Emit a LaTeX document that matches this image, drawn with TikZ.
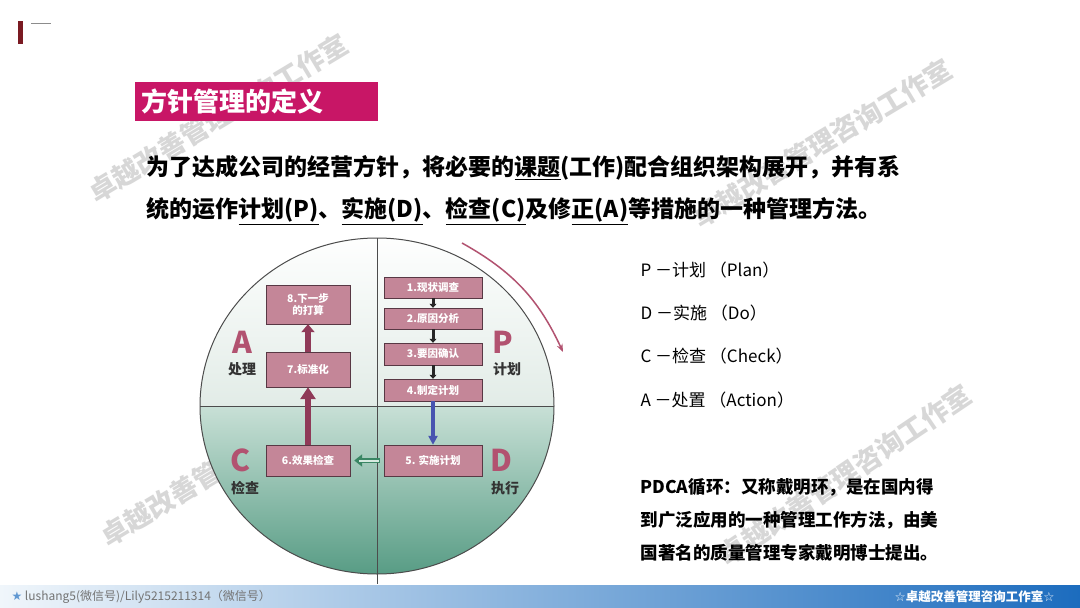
\documentclass[tikz,border=0pt]{standalone}
\usepackage{fontspec}
\setmainfont{Noto Sans CJK SC}
\newfontfamily\symfont{DejaVu Sans}
\usepackage{tikz}
\usetikzlibrary{positioning, arrows.meta}
\usepackage{xcolor}
\definecolor{titlered}{RGB}{200,22,102}
\definecolor{boxpink}{RGB}{196,134,152}
\definecolor{boxline}{RGB}{88,56,68}
\definecolor{letterpink}{RGB}{178,82,112}
\definecolor{maroon}{RGB}{143,58,88}
\definecolor{bluearr}{RGB}{72,84,176}
\definecolor{greenarr}{RGB}{58,134,100}
\definecolor{greenfill}{RGB}{214,234,224}
\definecolor{upmid}{RGB}{226,236,231}
\definecolor{lowtop}{RGB}{200,224,214}
\definecolor{lowbot}{RGB}{84,154,130}
\definecolor{barL}{RGB}{240,246,251}
\definecolor{barM}{RGB}{140,186,226}
\definecolor{barR}{RGB}{28,108,190}
\definecolor{darkred}{RGB}{122,26,34}

\begin{document}
\begin{tikzpicture}[x=1pt,y=-1pt,
    stepbox/.style={draw=boxline, fill=boxpink, text=white, font=\bfseries\fontsize{10.5}{12.5}\selectfont, inner sep=1pt, align=center},
    quad/.style={text=letterpink, font=\bfseries\fontsize{30}{30}\selectfont},
    quadname/.style={text=black!80, font=\bfseries\fontsize{14}{14}\selectfont},
    listline/.style={anchor=west, font=\fontsize{17}{17}\selectfont},
    watermark/.style={text=black!22, opacity=0.7, rotate=31, font=\bfseries\fontsize{27}{27}\selectfont}]
\useasboundingbox (0,0) rectangle (1080,608);
\fill[white] (0,0) rectangle (1080,608);

% watermarks
\node[watermark] (wm1) at (218,118) {卓越改善管理咨询工作室};
\node[watermark] (wm2) at (822,143) {卓越改善管理咨询工作室};
\node[watermark] (wm3) at (230,462) {卓越改善管理咨询工作室};
\node[watermark, rotate=3] (wm4) at (845,475) {卓越改善管理咨询工作室};

% top left mark
\fill[darkred] (18,21) rectangle (23,44);
\draw[black!45, line width=0.8pt] (31,23) -- (51,23);

% title
\node[fill=titlered, text=white, anchor=north west, minimum width=243pt, minimum height=39pt,
      text width=230pt, inner sep=6pt, font=\bfseries\fontsize{26}{26}\selectfont] (title) at (135,82) {方针管理的定义};

% text
\node[anchor=west, font=\bfseries\fontsize{23}{23}\selectfont] (line1) at (143,168)
  {为了达成公司的经营方针，将必要的\underline{课题}(工作)配合组织架构展开，并有系};
\node[anchor=west, font=\bfseries\fontsize{23}{23}\selectfont] (line2) at (143,211)
  {统的运作\underline{计划(P)}、\underline{实施(D)}、\underline{检查(C)}及修\underline{正(A)}等措施的一种管理方法。};

% circle
\begin{scope}
  \clip (377,406) ellipse (177 and 168);
  \shade[top color=white, bottom color=upmid] (190,230) rectangle (560,406);
  \shade[top color=lowtop, bottom color=lowbot] (190,406) rectangle (560,580);
\end{scope}
\draw[black!70, line width=1pt] (377,406) ellipse (177 and 168);
\draw[black!70, line width=0.8pt] (377,238) -- (377,584);
\draw[black!70, line width=0.8pt] (200,406) -- (554,406);

% steps
\node[stepbox, minimum width=98pt, minimum height=21pt] (s1) at (433,287.5) {1.现状调查};
\node[stepbox, minimum width=98pt, minimum height=21pt] (s2) at (433,318.5) {2.原因分析};
\node[stepbox, minimum width=98pt, minimum height=22pt] (s3) at (433,354) {3.要因确认};
\node[stepbox, minimum width=98pt, minimum height=22pt] (s4) at (433,390) {4.制定计划};
\node[stepbox, minimum width=98pt, minimum height=31pt] (s5) at (433,460.5) {5. 实施计划};
\node[stepbox, minimum width=84pt, minimum height=31pt] (s6) at (308,460.5) {6.效果检查};
\node[stepbox, minimum width=84pt, minimum height=35pt] (s7) at (308,369.5) {7.标准化};
\node[stepbox, minimum width=84pt, minimum height=39pt] (s8) at (308,304.5) {8.下一步\\的打算};

\draw[black!85, line width=3pt, -{Triangle[width=7pt,length=4pt]}] (s1) -- (s2);
\draw[black!85, line width=3pt, -{Triangle[width=7pt,length=4pt]}] (s2) -- (s3);
\draw[black!85, line width=3pt, -{Triangle[width=7pt,length=4pt]}] (s3) -- (s4);
\draw[bluearr, line width=3.5pt, -{Triangle[width=9pt,length=9pt]}] (s4) -- (s5);
\draw[maroon, line width=6pt, -{Triangle[width=15pt,length=12pt]}] (s6) -- (s7);
\draw[maroon, line width=6pt, -{Triangle[width=13pt,length=8pt]}] (s7) -- (s8);
\draw[greenarr, line width=5pt, shorten <=4pt, shorten >=4pt, -{Triangle[width=12pt,length=8pt]}] (s5) -- (s6);
\draw[greenfill, line width=2pt, shorten <=5pt, shorten >=9pt] (s5) -- (s6);

% quadrants
\node[quad] (qa) at (242,342) {A};
\node[quadname] (qan) at (242,369) {处理};
\node[quad] (qp) at (503,342) {P};
\node[quadname] (qpn) at (507,369) {计划};
\node[quad] (qc) at (241,460) {C};
\node[quadname] (qcn) at (245,488) {检查};
\node[quad] (qd) at (501,460) {D};
\node[quadname] (qdn) at (505,488) {执行};

% cycle arrow
\coordinate (arcS) at (462,243);
\coordinate (arcE) at (563,352);
\draw[letterpink, line width=1.5pt, -{Stealth[length=8pt,width=6pt]}] (arcS) to[bend left=18] (arcE);

% right side
\node[listline] (lp) at (637,270) {P －计划 （Plan）};
\node[listline] (ld) at (637,313) {D －实施 （Do）};
\node[listline] (lc) at (637,356) {C －检查 （Check）};
\node[listline] (la) at (637,400) {A －处置 （Action）};

\node[anchor=west, font=\bfseries\fontsize{17.5}{33}\selectfont, align=left] (pdca) at (637,520)
  {PDCA循环：又称戴明环，是在国内得\\到广泛应用的一种管理工作方法，由美\\国著名的质量管理专家戴明博士提出。};

% bottom bar
\shade[left color=barL, middle color=barM, right color=barR] (0,585) rectangle (1080,608);
\node[anchor=west, text=black!55, font=\fontsize{12}{12}\selectfont] (contact) at (8,597)
  {{\symfont\color{barR!70}★} lushang5(微信号)/Lily5215211314（微信号）};
\node[anchor=east, text=white, font=\bfseries\fontsize{12.5}{12.5}\selectfont] (studio) at (1058,597)
  {{\symfont ☆}卓越改善管理咨询工作室{\symfont ☆}};
\end{tikzpicture}
\end{document}
